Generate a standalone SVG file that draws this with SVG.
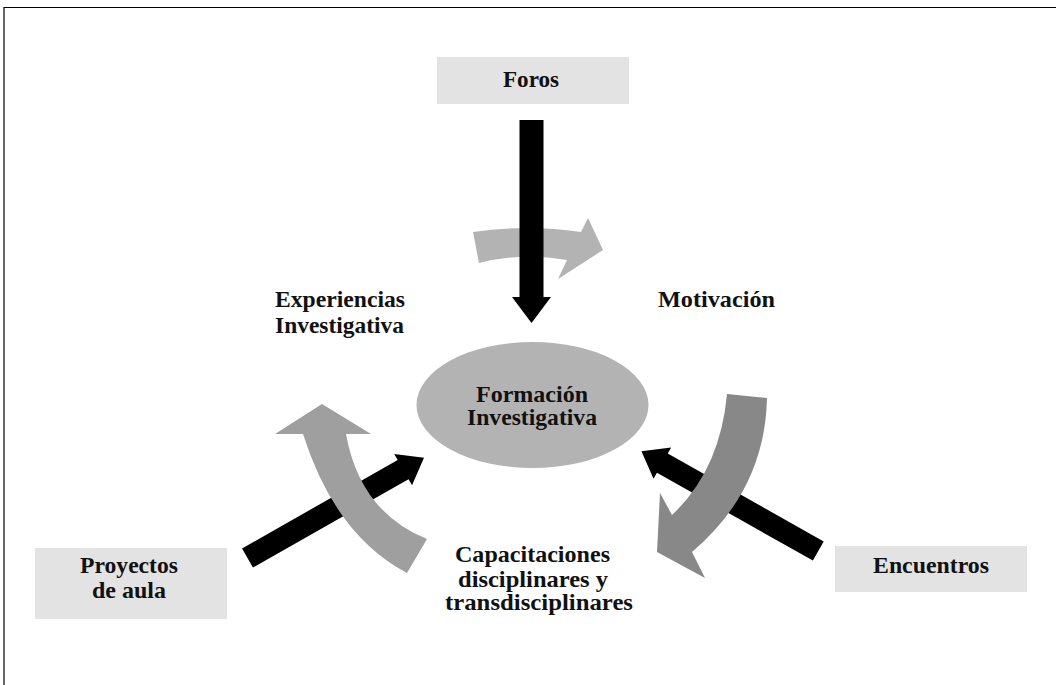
<svg xmlns="http://www.w3.org/2000/svg" width="1056" height="685" viewBox="0 0 1056 685">
<style>
.t{font-family:"Liberation Serif","Times New Roman",serif;font-weight:bold;font-size:23px;fill:#111}
.m{text-anchor:middle}
.box{fill:#e3e3e3}
.blk{fill:#000}
</style>
<defs>
<polygon id="barrow" points="0,-11 179,-11 179,-18 203,0 179,18 179,11 0,11"/>
</defs>
<rect width="1056" height="685" fill="#fff"/>
<path d="M4,685 V7.5 H1056" fill="none" stroke="#000" stroke-width="1.2"/>

<g id="connectors">
  <path id="arc-top" d="M473,232 Q527,224 581,232 L588,218 L603,250 L558,279 L567,260 Q522,252 479,263 Z" fill="#b3b3b3"/>
  <polygon id="arrow-foros" class="blk" points="519.5,120 543.5,120 543.5,297 551,297 531.5,323 512,297 519.5,297"/>
  <use id="arrow-proyectos" href="#barrow" class="blk" transform="translate(247.5,558) rotate(-29.6)"/>
  <use id="arrow-encuentros" href="#barrow" class="blk" transform="translate(818.3,551) rotate(-150.6)"/>
  <path id="arc-left" d="M407,573 Q335,535 303,434 L275,434 L322,404 L371,434 L346,434 Q360,512 427,539 Z" fill="#9f9f9f"/>
  <path id="arc-right" d="M727,394 L767,398 Q765,490 692,552 L705,578 L657,552 L660,493 L672,515 Q720,470 727,394 Z" fill="#888888"/>
</g>

<g id="node-foros">
  <rect class="box" x="437" y="57" width="192" height="47"/>
  <text class="t m" x="531" y="87" textLength="56" lengthAdjust="spacingAndGlyphs">Foros</text>
</g>
<g id="node-center">
  <ellipse cx="532.5" cy="405" rx="116" ry="63" fill="#b3b3b3"/>
  <text class="t m" x="532" y="402" textLength="112" lengthAdjust="spacingAndGlyphs">Formación</text>
  <text class="t m" x="532" y="425" textLength="130" lengthAdjust="spacingAndGlyphs">Investigativa</text>
</g>
<g id="label-experiencias">
  <text class="t" x="275" y="307" textLength="130" lengthAdjust="spacingAndGlyphs">Experiencias</text>
  <text class="t" x="275" y="333" textLength="129" lengthAdjust="spacingAndGlyphs">Investigativa</text>
</g>
<g id="label-motivacion">
  <text class="t" x="658" y="307" textLength="117" lengthAdjust="spacingAndGlyphs">Motivación</text>
</g>
<g id="label-capacitaciones">
  <text class="t m" x="532.5" y="562" textLength="155" lengthAdjust="spacingAndGlyphs">Capacitaciones</text>
  <text class="t m" x="533" y="587" textLength="150" lengthAdjust="spacingAndGlyphs">disciplinares y</text>
  <text class="t m" x="539" y="610" textLength="188" lengthAdjust="spacingAndGlyphs">transdisciplinares</text>
</g>
<g id="node-proyectos">
  <rect class="box" x="35" y="548" width="192" height="71"/>
  <text class="t m" x="129" y="573" textLength="98" lengthAdjust="spacingAndGlyphs">Proyectos</text>
  <text class="t m" x="129" y="598" textLength="74" lengthAdjust="spacingAndGlyphs">de aula</text>
</g>
<g id="node-encuentros">
  <rect class="box" x="835" y="546" width="192" height="46"/>
  <text class="t m" x="931" y="573" textLength="116" lengthAdjust="spacingAndGlyphs">Encuentros</text>
</g>
</svg>
